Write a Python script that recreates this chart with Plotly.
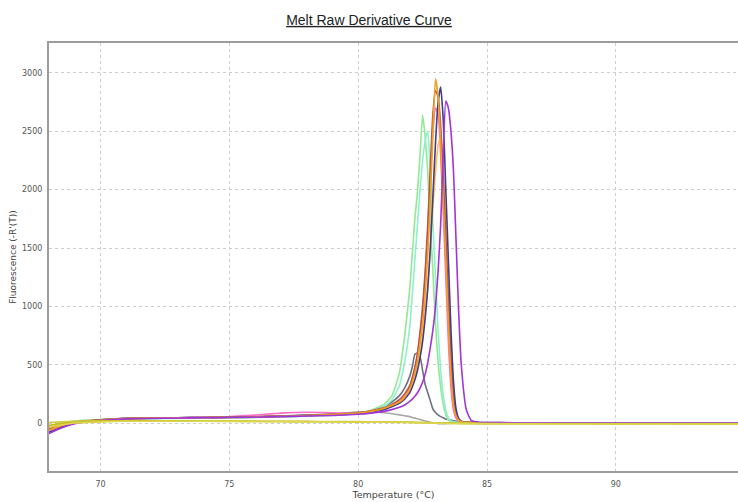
import plotly.graph_objects as go

# Temperature grid (°C)
temps = [68.0, 68.5, 69.0, 70.0, 71.0, 72.0, 73.0, 74.0, 75.0, 76.0, 77.0, 78.0, 79.0,
         80.0, 80.5, 81.0, 81.3, 81.6, 81.8,
         82.0, 82.1, 82.2, 82.3, 82.4, 82.5, 82.6, 82.7, 82.8, 82.9,
         83.0, 83.1, 83.2, 83.3, 83.4, 83.5, 83.6, 83.7, 83.8, 83.9,
         84.0, 84.2, 84.4, 84.7, 85.0, 86.0, 88.0, 90.0, 92.0, 94.75]

light_green = [-40, -5, 15, 30, 38, 40, 42, 44, 46, 50, 55, 62, 70,
               85, 110, 160, 230, 430, 740,
               1150, 1450, 1750, 1980, 2300, 2640, 2450, 2150, 1700, 1300,
               850, 520, 310, 160, 70, 25, 12, 8, 5, 5,
               4, 4, 3, 3, 3, 2, 3, 2, 3, 2]
aquamarine = [-30, 0, 18, 30, 36, 38, 40, 42, 44, 48, 52, 58, 66,
              80, 100, 140, 200, 320, 520,
              820, 1100, 1400, 1700, 2000, 2250, 2420, 2500, 2150, 1700,
              1250, 800, 450, 240, 110, 45, 18, 10, 6, 5,
              4, 4, 3, 3, 3, 2, 3, 2, 3, 2]
orange = [-60, -20, 5, 25, 38, 42, 44, 46, 48, 52, 58, 64, 72,
          85, 100, 125, 150, 180, 220,
          290, 350, 430, 530, 680, 850, 1100, 1450, 1900, 2500,
          2950, 2800, 2400, 1900, 1400, 850, 400, 150, 60, 25,
          12, 6, 4, 3, 3, 2, 3, 2, 3, 2]
red_brown = [-50, -15, 8, 28, 40, 44, 46, 48, 50, 54, 60, 66, 74,
             88, 105, 130, 160, 200, 250,
             320, 390, 480, 600, 780, 1000, 1300, 1700, 2200, 2650,
             2850, 2800, 2550, 2100, 1600, 1050, 550, 220, 80, 30,
             12, 6, 4, 3, 3, 2, 3, 2, 3, 2]
navy = [-80, -35, 0, 25, 38, 42, 45, 47, 49, 52, 58, 64, 70,
        82, 95, 115, 140, 170, 205,
        260, 310, 370, 450, 560, 700, 900, 1150, 1500, 1950,
        2400, 2750, 2880, 2600, 2000, 1400, 800, 350, 120, 40,
        15, 6, 4, 3, 3, 2, 3, 2, 3, 2]
purple = [-90, -40, -5, 22, 36, 40, 43, 45, 47, 50, 55, 60, 65,
          75, 85, 100, 115, 135, 155,
          185, 205, 230, 260, 300, 350, 420, 520, 650, 800,
          1000, 1300, 1700, 2300, 2760, 2700, 2500, 2150, 1550, 950,
          500, 110, 20, 6, 4, 3, 3, 2, 3, 2]
pink = [-70, -30, 0, 25, 38, 42, 46, 50, 55, 68, 85, 92, 88,
        80, 95, 120, 150, 185, 230,
        300, 370, 460, 580, 750, 950, 1250, 1650, 2100, 2500,
        2700, 2650, 2300, 1800, 1250, 700, 300, 110, 40, 15,
        8, 5, 4, 3, 3, 2, 3, 2, 3, 2]
light_orange = [-40, -10, 10, 28, 38, 42, 44, 46, 48, 52, 57, 63, 70,
                82, 95, 118, 145, 175, 215,
                270, 330, 400, 490, 600, 750, 950, 1200, 1500, 1850,
                2150, 2380, 2450, 2200, 1700, 1150, 650, 280, 100, 35,
                12, 6, 4, 3, 3, 2, 3, 2, 3, 2]
dark_gray = [-60, -20, 5, 28, 40, 44, 46, 48, 50, 55, 60, 68, 78,
             90, 100, 140, 180, 235, 300,
             400, 480, 590, 600, 570, 450, 330, 260, 190, 120,
             90, 70, 55, 45, 35, 30, 25, 20, 16, 13,
             10, 8, 6, 5, 4, 3, 3, 2, 3, 2]
light_gray = [-30, 0, 15, 28, 36, 40, 42, 44, 46, 50, 55, 62, 75,
              97, 95, 88, 80, 70, 62,
              55, 48, 42, 36, 30, 24, 18, 12, 6, 2,
              -2, -5, -6, -6, -5, -4, -3, -2, -1, 0,
              0, 1, 1, 2, 2, 1, 2, 1, 2, 1]
yellow_1 = [5, 10, 14, 18, 20, 20, 19, 18, 17, 16, 15, 14, 13,
            12, 11, 10, 9, 8, 8, 7, 7, 6, 6, 5, 5, 4, 4, 3, 3,
            2, 2, 1, 1, 0, 0, -1, -1, -2, -2, -2, -3, -3, -3, -4, -4, -4, -5, -4, -5]
yellow_2 = [-20, -5, 5, 14, 18, 18, 17, 16, 15, 14, 13, 12, 11,
            10, 9, 8, 8, 7, 7, 6, 6, 5, 5, 4, 4, 3, 3, 2, 2,
            1, 1, 0, 0, -1, -1, -2, -2, -3, -3, -3, -4, -4, -5, -5, -6, -6, -7, -6, -7]
yellow_3 = [-35, -15, 0, 10, 15, 16, 16, 15, 14, 13, 12, 11, 10,
            9, 8, 7, 6, 5, 5, 4, 4, 3, 3, 2, 2, 1, 1, 0, 0,
            -1, -1, -2, -2, -3, -3, -4, -4, -4, -5, -5, -5, -6, -6, -7, -7, -8, -8, -8, -9]

series = [
    ("light gray", light_gray, "#a8a8a8"),
    ("dark gray", dark_gray, "#6e7080"),
    ("pink", pink, "#ff6ec7"),
    ("light green", light_green, "#93e893"),
    ("aquamarine", aquamarine, "#8ff0cf"),
    ("light orange", light_orange, "#ffbd55"),
    ("red brown", red_brown, "#b9553f"),
    ("navy", navy, "#3e3e90"),
    ("orange", orange, "#f0a020"),
    ("purple", purple, "#a035dc"),
    ("yellow 1", yellow_1, "#d2cc3a"),
    ("yellow 2", yellow_2, "#c4bd1e"),
    ("yellow 3", yellow_3, "#dcd650"),
]

fig = go.Figure()
for name, vals, color in series:
    fig.add_trace(go.Scatter(x=temps, y=vals, mode="lines", name=name,
                             line=dict(color=color, width=1.6, shape="spline", smoothing=0.5)))

tick_font = dict(family="DejaVu Sans", size=8, color="#555555")
fig.update_layout(
    width=738, height=502,
    margin=dict(l=49, r=0, t=43, b=31),
    paper_bgcolor="white", plot_bgcolor="white",
    showlegend=False,
    title=dict(text="<u>Melt Raw Derivative Curve</u>", x=0.5, xanchor="center",
               y=1 - 20 / 502, yanchor="middle", yref="container",
               font=dict(family="Liberation Sans", size=14, color="#222222")),
)
fig.update_xaxes(range=[68.0, 94.74], tickvals=[70, 75, 80, 85, 90],
                 showgrid=True, gridcolor="#cdcdcd", griddash="3px,3px", gridwidth=1,
                 showline=True, linecolor="#9c9c9c", linewidth=2, mirror=True,
                 zeroline=False, ticks="", tickfont=tick_font, ticklabelstandoff=4,
                 title=dict(text="Temperature (°C)", standoff=2,
                            font=dict(family="DejaVu Sans", size=9.5, color="#444444")))
fig.update_yaxes(range=[-411, 3257], tickvals=[0, 500, 1000, 1500, 2000, 2500, 3000],
                 showgrid=True, gridcolor="#cdcdcd", griddash="3px,3px", gridwidth=1,
                 showline=True, linecolor="#9c9c9c", linewidth=2, mirror=False,
                 zeroline=False, ticks="", tickfont=tick_font, ticklabelstandoff=3,
                 title=dict(text="Fluorescence (-R'(T))", standoff=4,
                            font=dict(family="DejaVu Sans", size=9, color="#444444")))

fig.write_html("out.html")
